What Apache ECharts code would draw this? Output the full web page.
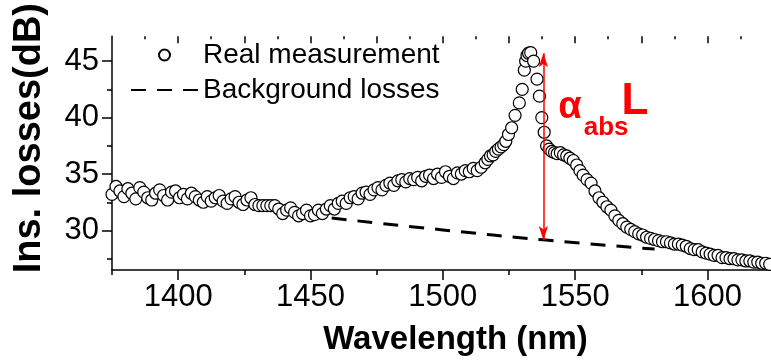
<!DOCTYPE html>
<html>
<head>
<meta charset="utf-8">
<script src="https://cdn.jsdelivr.net/npm/echarts@6/dist/echarts.min.js"></script>
<style>
  html, body {margin: 0; padding: 0; background: #fff;}
  #main {width: 771px; height: 363px;}
</style>
</head>
<body>
<div id="main"></div>
<script>
const wavelength = [
  1375, 1376.5, 1378, 1379.5, 1381, 1382.5, 1384, 1385.5, 1387, 1388.5,
  1390, 1391.5, 1393, 1394.5, 1396, 1397.5, 1399, 1400.5, 1402, 1403.5,
  1405, 1406.5, 1408, 1409.5, 1411, 1412.5, 1414, 1415.5, 1417, 1418.5,
  1420, 1421.5, 1423, 1424.5, 1426, 1427.5, 1429, 1430.5, 1432, 1433.5,
  1435, 1436.5, 1438, 1439.5, 1441, 1442.5, 1444, 1445.5, 1447, 1448.5,
  1450, 1451.5, 1453, 1454.5, 1456, 1457.5, 1459, 1460.5, 1462, 1463.5,
  1465, 1466.5, 1468, 1469.5, 1471, 1472.5, 1474, 1475.5, 1477, 1478.5,
  1480, 1481.5, 1483, 1484.5, 1486, 1487.5, 1489, 1490.5, 1492, 1493.5,
  1495, 1496.5, 1498, 1499.5, 1501, 1502.5, 1504, 1505.5, 1507, 1508.5,
  1510, 1511.5, 1513, 1514.5, 1516, 1517, 1518, 1519, 1520, 1521,
  1522, 1523, 1523.8, 1524.8, 1526, 1527.3, 1528.9, 1530, 1530.8, 1531.3,
  1531.8, 1532.4, 1533.2, 1534.3, 1535.6, 1536.5, 1537.4, 1538.3, 1539.2, 1540.2,
  1541.2, 1542.2, 1543.2, 1544.4, 1545.6, 1546.8, 1548, 1549.3, 1550.6, 1551.8,
  1553, 1554.5, 1556, 1557.5, 1559, 1560.5, 1562, 1563.5, 1565, 1566.5,
  1568, 1569.5, 1571, 1572.5, 1574, 1575.5, 1577, 1578.5, 1580, 1581.5,
  1583, 1584.5, 1586, 1587.5, 1589, 1590.5, 1592, 1593.5, 1595, 1596.5,
  1598, 1599.5, 1601, 1602.5, 1604, 1605.5, 1607, 1608.5, 1610, 1611.5,
  1613, 1614.5, 1616, 1617.5, 1619, 1620.5, 1622, 1623.5
];
const insLoss = [
  33.2, 33.9, 33.5, 33.0, 33.7, 33.3, 32.8, 33.8, 33.4, 32.9,
  32.7, 33.3, 33.6, 33.1, 32.7, 33.4, 33.5, 32.9, 33.2, 32.8,
  33.3, 33.0, 32.7, 32.5, 33.0, 32.6, 32.9, 33.1, 32.6, 32.4,
  32.8, 33.0, 32.5, 32.3, 32.7, 32.9, 32.3, 32.2, 32.2, 32.2,
  32.2, 32.2, 31.9, 31.5, 31.8, 32.0, 31.6, 31.3, 31.5, 31.8,
  31.3, 31.4, 31.8, 31.5, 31.9, 32.2, 31.9, 32.4, 32.6, 32.4,
  32.9, 33.0, 32.8, 33.3, 33.4, 33.2, 33.6, 33.8, 33.6, 34.0,
  34.2, 34.0, 34.4, 34.5, 34.3, 34.6, 34.5, 34.7, 34.4, 34.8,
  34.9, 34.6, 35.0, 34.7, 35.2, 34.8, 34.6, 35.1, 35.0, 35.3,
  35.2, 35.5, 35.3, 35.6, 36.0, 36.3, 36.6, 36.7, 37.0, 37.2,
  37.4, 37.6, 37.9, 38.5, 39.1, 40.2, 41.3, 42.5, 44.2, 45.0,
  45.5, 45.7, 45.75, 45.0, 43.4, 41.9, 40.0, 38.7, 37.5, 37.2,
  37.0, 36.9, 36.8, 36.9, 36.7, 36.6, 36.4, 36.2, 35.8, 35.3,
  34.9, 34.5, 34.2, 33.5, 32.9, 32.5, 32.1, 31.8, 31.3, 30.9,
  30.6, 30.3, 30.1, 29.9, 29.7, 29.6, 29.4, 29.3, 29.2, 29.1,
  29.0, 29.0, 28.9, 28.8, 28.8, 28.7, 28.6, 28.4, 28.3, 28.3,
  28.1, 28.0, 27.9, 27.8, 27.8, 27.6, 27.6, 27.5, 27.5, 27.4,
  27.4, 27.3, 27.3, 27.2, 27.2, 27.1, 27.1, 27.0
];
// background-loss baseline (dashed)
const bgWavelength = [1458, 1500, 1538, 1580];
const bgLoss = [31.1, 30.05, 29.17, 28.35];

// absorption arrow: from baseline up to the peak
const arrowX = 1538;
const arrowFrom = 29.15;
const arrowTo = 45.7;

const xMajorTicks = [1400, 1450, 1500, 1550, 1600];
const xMinorTicks = [1375, 1425, 1475, 1525, 1575];
const xTopMajor = [1400, 1425, 1450, 1475, 1500, 1525, 1550, 1575, 1600];
const xTopMinor = [1387.5, 1412.5, 1437.5, 1462.5, 1487.5, 1512.5, 1537.5, 1562.5, 1587.5, 1612.5];
const yMajorTicks = [30, 35, 40, 45];
const yMinorTicks = [27.5, 32.5, 37.5, 42.5];

const FONT = '"Liberation Sans", Arial, sans-serif';
const X_MIN = 1375, X_MAX = 1624, Y_MIN = 26.5, Y_MAX = 47.2;

const chart = echarts.init(document.getElementById('main'));

function xAx(extra) {
  return Object.assign({
    type: 'value', min: X_MIN, max: X_MAX, position: 'bottom',
    axisLine: {show: false}, splitLine: {show: false},
    axisLabel: {show: false}, axisTick: {show: false}
  }, extra);
}
function yAx(extra) {
  return Object.assign({
    type: 'value', min: Y_MIN, max: Y_MAX, position: 'left',
    axisLine: {show: false}, splitLine: {show: false},
    axisLabel: {show: false}, axisTick: {show: false}
  }, extra);
}

chart.setOption({
  animation: false,
  backgroundColor: '#fff',
  grid: {left: 112, right: 0, top: 30, bottom: 93},
  xAxis: [
    xAx({
      name: 'Wavelength (nm)', nameLocation: 'middle', nameGap: 53,
      nameTextStyle: {fontFamily: FONT, fontSize: 33, fontWeight: 'bold', color: '#000', padding: [0, 0, 0, 28]},
      axisLine: {show: true, lineStyle: {color: '#000', width: 1.5}},
      axisTick: {show: true, length: 10, lineStyle: {color: '#000', width: 1.5}, customValues: xMajorTicks},
      axisLabel: {show: true, margin: 12, fontFamily: FONT, fontSize: 31, color: '#000',
        customValues: xMajorTicks, formatter: v => String(v)}
    }),
    xAx({axisTick: {show: true, length: 5, lineStyle: {color: '#000', width: 1.5}, customValues: xMinorTicks}}),
    xAx({position: 'top', axisTick: {show: true, inside: true, length: 7, lineStyle: {color: '#000', width: 1.5}, customValues: xTopMajor}}),
    xAx({position: 'top', axisTick: {show: true, inside: true, length: 3, lineStyle: {color: '#000', width: 1.5}, customValues: xTopMinor}})
  ],
  yAxis: [
    yAx({
      name: 'Ins. losses(dB)', nameLocation: 'middle', nameGap: 63,
      nameTextStyle: {fontFamily: FONT, fontSize: 38, fontWeight: 'bold', color: '#000', padding: [0, 0, 0, 30]},
      axisLine: {show: true, lineStyle: {color: '#000', width: 1.5}},
      axisTick: {show: true, length: 10, lineStyle: {color: '#000', width: 1.5}, customValues: yMajorTicks},
      axisLabel: {show: true, margin: 13, fontFamily: FONT, fontSize: 31, color: '#000',
        customValues: yMajorTicks, formatter: v => String(v)}
    }),
    yAx({axisTick: {show: true, length: 5, lineStyle: {color: '#000', width: 1.5}, customValues: yMinorTicks}})
  ],
  legend: {
    orient: 'vertical', left: 130, top: 41, padding: 0,
    itemWidth: 67, itemHeight: 11, itemGap: 7,
    textStyle: {fontFamily: FONT, fontSize: 28, color: '#000'},
    data: [
      {name: 'Real measurement'},
      {name: 'Background losses', itemStyle: {opacity: 0}}
    ]
  },
  series: [
    {
      name: 'Background losses', type: 'line', z: 1,
      data: bgWavelength.map((x, i) => [x, bgLoss[i]]),
      symbol: 'none', smooth: true,
      lineStyle: {color: '#000', width: 3, type: [15, 11]},
      itemStyle: {color: '#000'},
      markLine: {
        silent: true, symbol: ['arrow', 'arrow'], symbolSize: [7, 14],
        label: {show: false},
        lineStyle: {color: '#ff0000', width: 1.5, type: 'solid'},
        data: [[{coord: [arrowX, arrowFrom]}, {coord: [arrowX, arrowTo]}]]
      }
    },
    {
      name: 'Real measurement', type: 'scatter', z: 3,
      data: wavelength.map((x, i) => [x, insLoss[i]]),
      symbol: 'circle', symbolSize: 12,
      itemStyle: {color: '#fff', borderColor: '#000', borderWidth: 1.2, opacity: 1}
    },
    {
      name: 'annotation', type: 'scatter', z: 4, silent: true,
      data: [], symbolSize: 0,
      markPoint: {
        symbol: 'circle', symbolSize: 0, silent: true,
        label: {show: true, position: 'inside', color: '#ff0000', fontFamily: FONT, fontWeight: 'bold'},
        data: [
          {coord: [1548, 40.85], value: 'α', label: {formatter: 'α', fontSize: 38}},
          {coord: [1561.7, 39.1], value: 'abs', label: {formatter: 'abs', fontSize: 26}},
          {coord: [1572.6, 41.4], value: 'L', label: {formatter: 'L', fontSize: 44}}
        ]
      }
    }
  ]
});
</script>
</body>
</html>
